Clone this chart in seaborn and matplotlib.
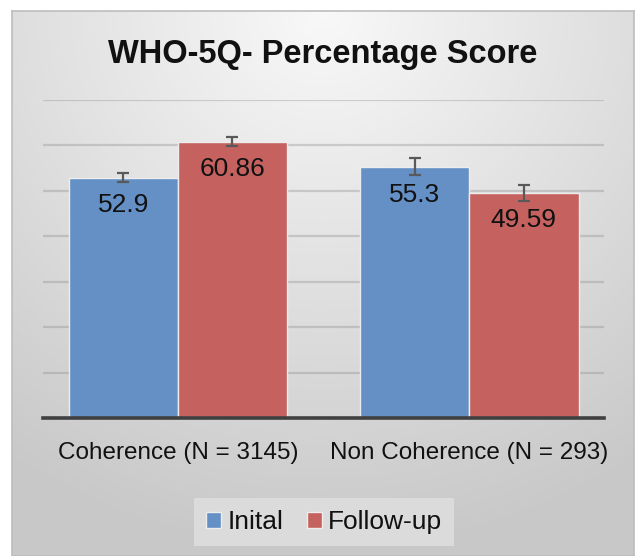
import numpy as np
import pandas as pd
import matplotlib
matplotlib.use("Agg")
import matplotlib.pyplot as plt
import seaborn as sns

# ---- data ----
categories = ["Coherence (N = 3145)", "Non Coherence (N = 293)"]
series = ["Inital", "Follow-up"]
initial_vals = [52.9, 55.3]
followup_vals = [60.86, 49.59]
initial_err = [1.0, 1.9]
followup_err = [1.0, 1.75]
value_labels = {"Inital": ["52.9", "55.3"], "Follow-up": ["60.86", "49.59"]}
title = "WHO-5Q- Percentage Score"

df = pd.DataFrame({
    "category": categories * 2,
    "series": [series[0]] * 2 + [series[1]] * 2,
    "value": initial_vals + followup_vals,
})
errors = {"Inital": initial_err, "Follow-up": followup_err}

sns.set_theme(style="white")
plt.rcParams["font.family"] = ["Liberation Sans", "DejaVu Sans"]

W, H = 636, 556
fig = plt.figure(figsize=(W / 100, H / 100), dpi=100, facecolor="white")

# background panel with gradient
bx0, by0, bx1, by1 = 12, 11, 634, 556
bg = fig.add_axes([bx0 / W, 1 - by1 / H, (bx1 - bx0) / W, (by1 - by0) / H], zorder=0)
yy, xx = np.mgrid[0:1:300j, 0:1:300j]
d = np.minimum(1.0, np.sqrt(((xx - 0.5) * 1.1) ** 2 + yy ** 2))
val = 0.975 - 0.19 * d
bg.imshow(np.dstack([val, val, val]), extent=[0, 1, 0, 1], aspect="auto", origin="upper")
bg.set_xticks([]); bg.set_yticks([])
for s in bg.spines.values():
    s.set_color("#BDBDBD"); s.set_linewidth(1.2)

# main axes
left, right, top, base = 43, 604, 100, 418
ax = fig.add_axes([left / W, 1 - base / H, (right - left) / W, (base - top) / H], zorder=1)
ax.set_facecolor("none")

palette = {"Inital": "#6590C5", "Follow-up": "#C5625F"}
sns.barplot(data=df, x="category", y="value", hue="series", hue_order=series,
            order=categories, palette=palette, width=0.75, errorbar=None,
            saturation=1, edgecolor="#EDEDED", linewidth=1.0, ax=ax, zorder=2)

ax.set_ylim(0, 70)
ax.set_yticks(np.arange(0, 71, 10))
ax.set_yticklabels([])
ax.tick_params(axis="y", length=0)
ax.tick_params(axis="x", length=0, pad=17, labelsize=17.5, labelcolor="#111111")
ax.yaxis.grid(True, color="#8A8A8A", alpha=0.35, linewidth=1.6, zorder=0)
ax.set_axisbelow(True)
ax.set_xlabel(""); ax.set_ylabel("")
for k in ["top", "left", "right"]:
    ax.spines[k].set_visible(False)
ax.spines["bottom"].set_color("#404040")
ax.spines["bottom"].set_linewidth(2.6)
ax.spines["bottom"].set_zorder(5)

for cont, s in zip(ax.containers, series):
    for i, bar in enumerate(cont):
        xc = bar.get_x() + bar.get_width() / 2
        h = bar.get_height()
        ax.errorbar(xc, h, yerr=errors[s][i], color="#595959", elinewidth=1.6,
                    capsize=4.5, capthick=1.6, zorder=4)
        ax.annotate(value_labels[s][i], (xc, h), xytext=(0, -20), textcoords="offset points",
                    ha="center", va="center", fontsize=19, color="#111111", zorder=5)

leg = ax.legend(loc="center", bbox_to_anchor=(0.51, 1 - 522 / H), bbox_transform=fig.transFigure,
                ncol=2, frameon=True, fontsize=19, handlelength=0.55, handleheight=0.55,
                handletextpad=0.25, columnspacing=0.9, borderpad=0.45, fancybox=False)
leg.get_frame().set_facecolor("#DBDBDB")
leg.get_frame().set_edgecolor("none")
leg.get_frame().set_alpha(1)
for t in leg.get_texts():
    t.set_color("#111111")

fig.text(0.508, 1 - 62.5 / H, title, ha="center", va="baseline", fontsize=23.5,
         fontweight="bold", color="#111111")

fig.savefig("out.png", dpi=100, facecolor="white")
